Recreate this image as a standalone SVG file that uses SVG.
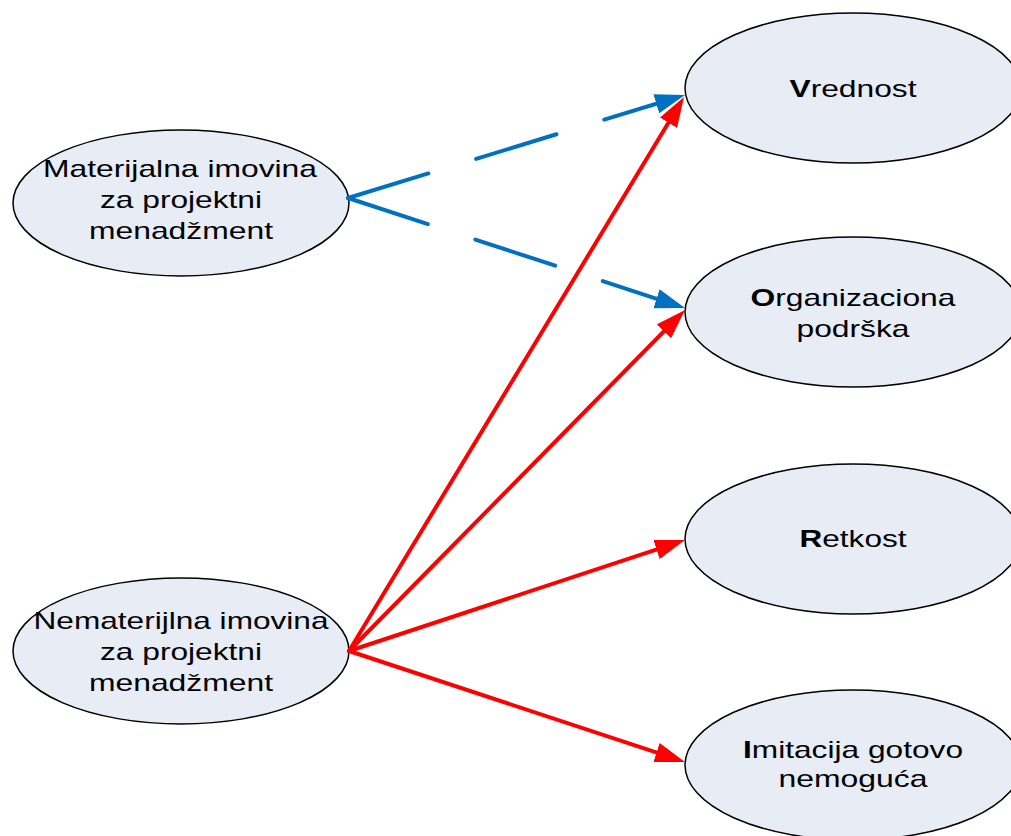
<svg xmlns="http://www.w3.org/2000/svg" width="1011" height="836" viewBox="0 0 1011 836">
  <style>
    .node { fill: #E8ECF4; stroke: #000; stroke-width: 1.5; }
    .label { font-family: "Liberation Sans", Arial, sans-serif; font-size: 24px; fill: #000; text-anchor: middle; }
    .b { font-weight: bold; }
    .blue { stroke: #0070C0; stroke-width: 4; fill: none; stroke-linecap: round; stroke-dasharray: 84 50; marker-end: url(#arrowBlue); }
    .red { stroke: #FF0000; stroke-width: 4; fill: none; stroke-linecap: round; marker-end: url(#arrowRed); }
  </style>
  <defs>
    <marker id="arrowBlue" markerUnits="userSpaceOnUse" markerWidth="32" markerHeight="22" refX="18" refY="10" orient="auto">
      <path d="M0,0 L30,10 L0,20 z" fill="#0070C0"/>
    </marker>
    <marker id="arrowRed" markerUnits="userSpaceOnUse" markerWidth="32" markerHeight="22" refX="18" refY="10" orient="auto">
      <path d="M0,0 L30,10 L0,20 z" fill="#FF0000"/>
    </marker>
  </defs>
  <rect width="1011" height="836" fill="#fff"/>

  <g id="materijalna">
    <ellipse class="node" cx="181" cy="203" rx="168" ry="73"/>
    <text class="label" x="180" y="177" textLength="274" lengthAdjust="spacingAndGlyphs">Materijalna imovina</text>
    <text class="label" x="181" y="208" textLength="162" lengthAdjust="spacingAndGlyphs">za projektni</text>
    <text class="label" x="181" y="239" textLength="184" lengthAdjust="spacingAndGlyphs">menadžment</text>
  </g>

  <g id="nematerijalna">
    <ellipse class="node" cx="181" cy="651" rx="168" ry="73"/>
    <text class="label" x="181" y="629" textLength="295" lengthAdjust="spacingAndGlyphs">Nematerijlna imovina</text>
    <text class="label" x="181" y="660" textLength="162" lengthAdjust="spacingAndGlyphs">za projektni</text>
    <text class="label" x="181" y="691" textLength="184" lengthAdjust="spacingAndGlyphs">menadžment</text>
  </g>

  <g id="vrednost">
    <ellipse class="node" cx="853" cy="88" rx="168" ry="75"/>
    <text class="label" x="853" y="97" textLength="127" lengthAdjust="spacingAndGlyphs"><tspan class="b">V</tspan>rednost</text>
  </g>

  <g id="organizaciona">
    <ellipse class="node" cx="853" cy="312" rx="168" ry="75"/>
    <text class="label" x="853" y="306" textLength="205" lengthAdjust="spacingAndGlyphs"><tspan class="b">O</tspan>rganizaciona</text>
    <text class="label" x="853" y="337" textLength="113" lengthAdjust="spacingAndGlyphs">podrška</text>
  </g>

  <g id="retkost">
    <ellipse class="node" cx="853" cy="539" rx="168" ry="75"/>
    <text class="label" x="853" y="547" textLength="107" lengthAdjust="spacingAndGlyphs"><tspan class="b">R</tspan>etkost</text>
  </g>

  <g id="imitacija">
    <ellipse class="node" cx="853" cy="765" rx="168" ry="75"/>
    <text class="label" x="853" y="758" textLength="220" lengthAdjust="spacingAndGlyphs"><tspan class="b">I</tspan>mitacija gotovo</text>
    <text class="label" x="853" y="787" textLength="149" lengthAdjust="spacingAndGlyphs">nemoguća</text>
  </g>

  <g id="connectors">
    <line class="blue" x1="348" y1="198" x2="673.5" y2="98.5"/>
    <line class="blue" x1="348" y1="198" x2="673.6" y2="304.3"/>
    <line class="red" x1="349" y1="651" x2="677.8" y2="107.3"/>
    <line class="red" x1="349" y1="651" x2="676.6" y2="318.5"/>
    <line class="red" x1="349" y1="651" x2="673.6" y2="543.8"/>
    <line class="red" x1="349" y1="651" x2="673.6" y2="758.2"/>
  </g>
</svg>
